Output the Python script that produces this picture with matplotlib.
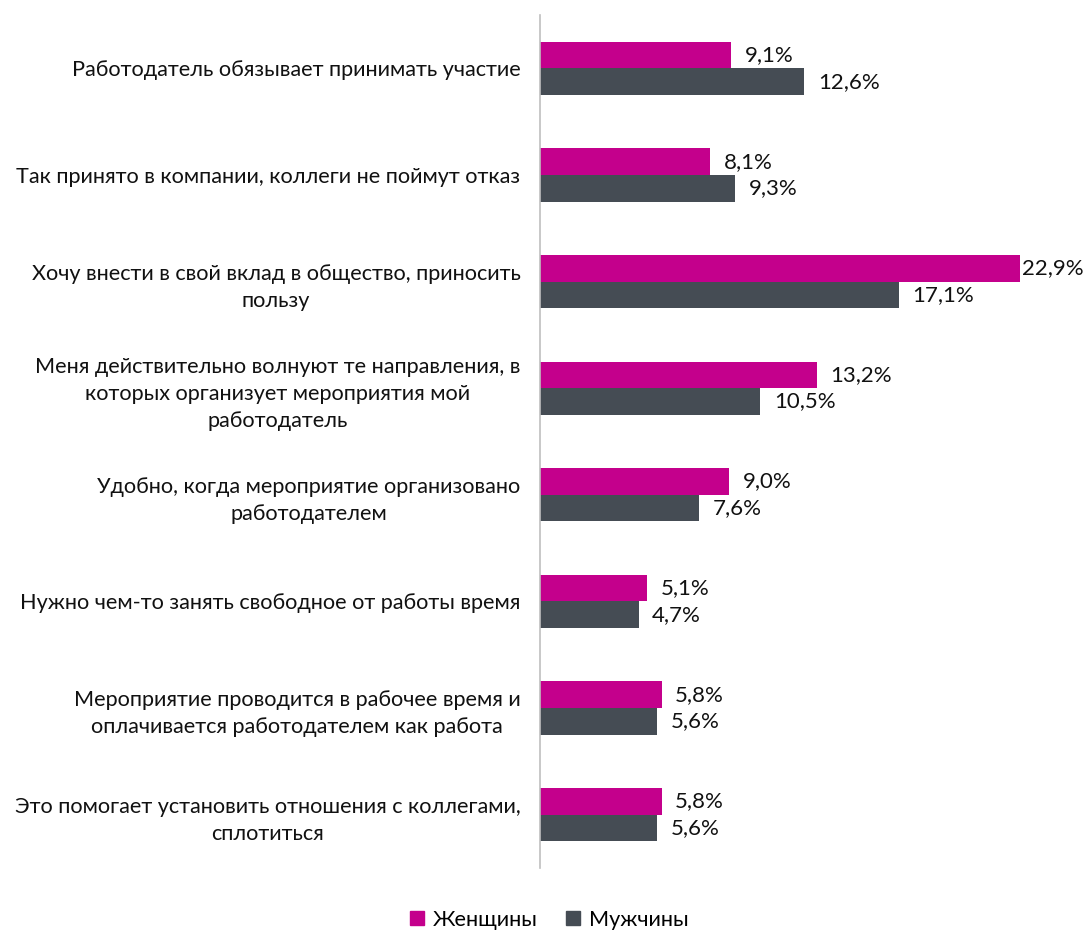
import numpy as np
import matplotlib
matplotlib.use('Agg')
import matplotlib.pyplot as plt
from matplotlib.patches import Patch

plt.rcParams['font.family'] = ['Lato', 'DejaVu Sans']

categories = [
    'Работодатель обязывает принимать участие',
    'Так принято в компании, коллеги не поймут отказ',
    'Хочу внести в свой вклад в общество, приносить\nпользу',
    'Меня действительно волнуют те направления, в\nкоторых организует мероприятия мой\nработодатель',
    'Удобно, когда мероприятие организовано\nработодателем',
    'Нужно чем-то занять свободное от работы время',
    'Мероприятие проводится в рабочее время и\nоплачивается работодателем как работа',
    'Это помогает установить отношения с коллегами,\nсплотиться',
]
women = [9.1, 8.1, 22.9, 13.2, 9.0, 5.1, 5.8, 5.8]
men = [12.6, 9.3, 17.1, 10.5, 7.6, 4.7, 5.6, 5.6]
series_names = ['Женщины', 'Мужчины']
colors = ['#C4008C', '#454C54']

fig = plt.figure(figsize=(10.88, 9.31), dpi=100)
ax = fig.add_axes([0.4963, 0.0677, 0.482, 0.9162])

y = np.arange(len(categories))
h = 0.25
ax.barh(y - h / 2, women, height=h, color=colors[0])
ax.barh(y + h / 2, men, height=h, color=colors[1])


def put_label(x, yy):
    # keep the longest label inside the figure
    off = 0.65 if x < 20 else 0.1
    ax.text(x + off, yy, f'{x:.1f}%'.replace('.', ','),
            va='center', ha='left', fontsize=16, color='#111111')


for yi, w, m in zip(y, women, men):
    put_label(w, yi - h / 2)
    put_label(m, yi + h / 2)

ax.set_xlim(0, 25)
ax.set_ylim(len(categories) - 0.5, -0.5)
ax.set_yticks(y)
ax.set_yticklabels(categories, fontsize=15.6, color='#111111',
                   multialignment='center', linespacing=1.45)
ax.tick_params(axis='y', length=0, pad=14)
ax.set_xticks([])
for s in ['top', 'right', 'bottom']:
    ax.spines[s].set_visible(False)
ax.spines['left'].set_color('#BFBFBF')
ax.spines['left'].set_linewidth(1.2)

handles = [Patch(color=c) for c in colors]
fig.legend(handles, series_names, loc='center', bbox_to_anchor=(0.505, 0.012),
           ncol=2, frameon=False, fontsize=15.6, handlelength=0.65, handleheight=0.65,
           columnspacing=1.3, handletextpad=0.4)

fig.savefig('out.png', dpi=100)
